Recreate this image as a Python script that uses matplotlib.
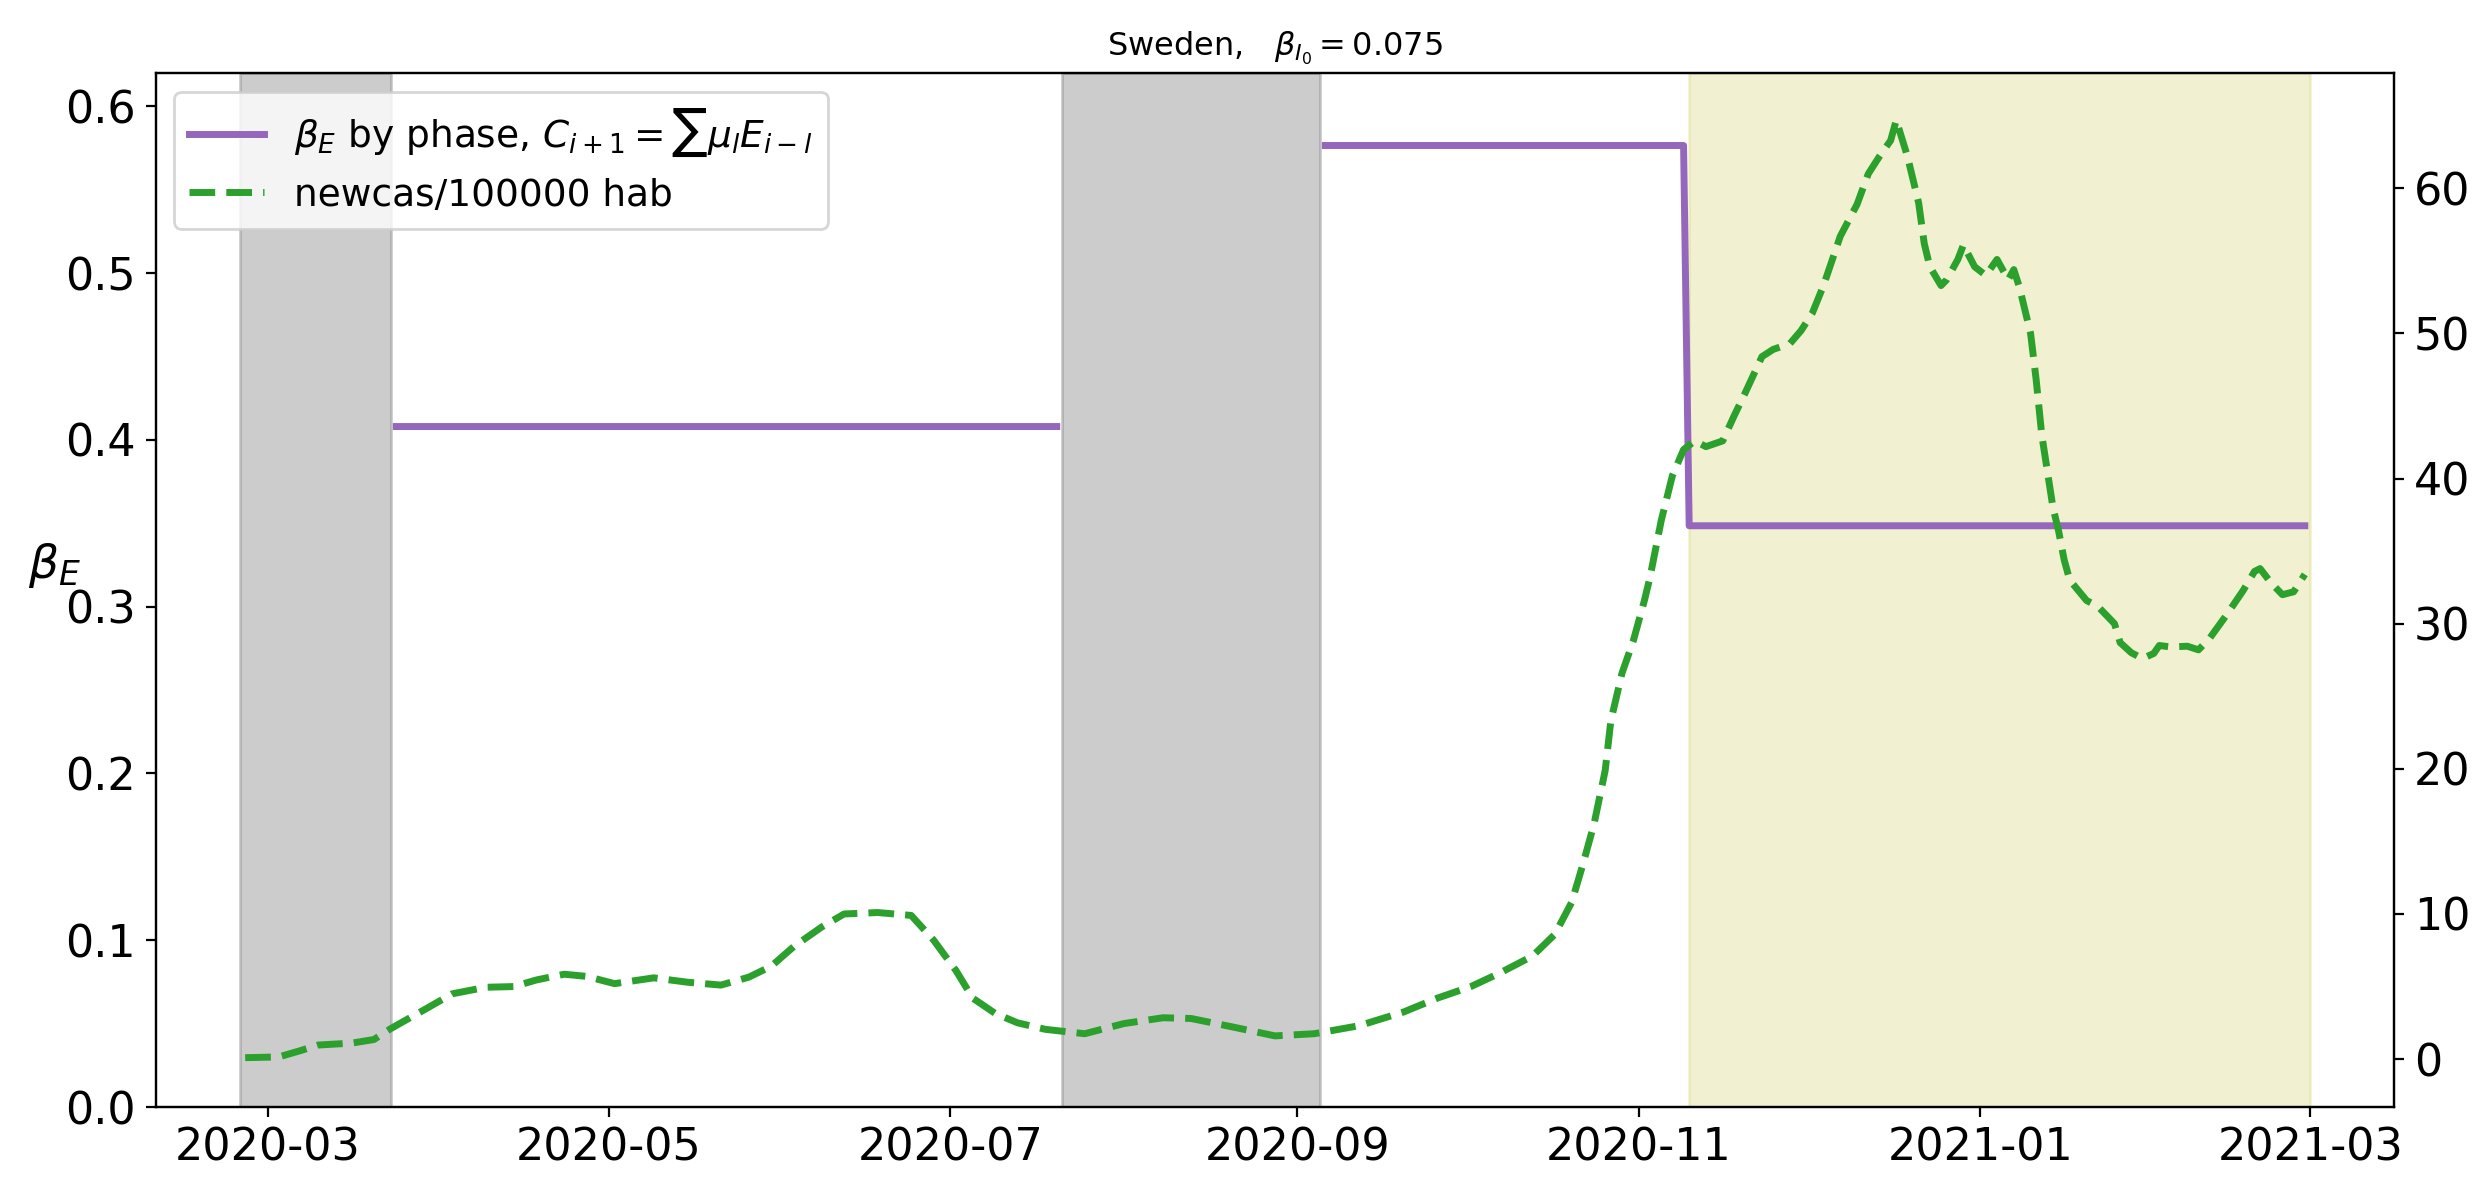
import matplotlib
matplotlib.use("Agg")
import matplotlib.pyplot as plt
import matplotlib.dates as mdates
import numpy as np
import pandas as pd

# Nouveaux cas / 100000 hab (lissés)
dates_cas = [
    "2020-02-26", "2020-03-03", "2020-03-07", "2020-03-10", "2020-03-16", "2020-03-20",
    "2020-03-23", "2020-03-29", "2020-04-03", "2020-04-09", "2020-04-14", "2020-04-18",
    "2020-04-23", "2020-04-27", "2020-05-02", "2020-05-09", "2020-05-15", "2020-05-21",
    "2020-05-26", "2020-05-30", "2020-06-03", "2020-06-08", "2020-06-12", "2020-06-18",
    "2020-06-21", "2020-06-24", "2020-06-28", "2020-07-02", "2020-07-05", "2020-07-09",
    "2020-07-13", "2020-07-18", "2020-07-25", "2020-08-01", "2020-08-08", "2020-08-13",
    "2020-08-20", "2020-08-28", "2020-09-04", "2020-09-12", "2020-09-20", "2020-09-26",
    "2020-10-02", "2020-10-07", "2020-10-13", "2020-10-17", "2020-10-20", "2020-10-22",
    "2020-10-24", "2020-10-26", "2020-10-27", "2020-10-29", "2020-10-31", "2020-11-02",
    "2020-11-03", "2020-11-05", "2020-11-07", "2020-11-09", "2020-11-11", "2020-11-13",
    "2020-11-16", "2020-11-18", "2020-11-20", "2020-11-23", "2020-11-25", "2020-11-28",
    "2020-11-30", "2020-12-02", "2020-12-04", "2020-12-07", "2020-12-10", "2020-12-12",
    "2020-12-14", "2020-12-16", "2020-12-17", "2020-12-19", "2020-12-21", "2020-12-22",
    "2020-12-23", "2020-12-25", "2020-12-26", "2020-12-28", "2020-12-29", "2020-12-31",
    "2021-01-02", "2021-01-04", "2021-01-06", "2021-01-07", "2021-01-08", "2021-01-10",
    "2021-01-11", "2021-01-12", "2021-01-14", "2021-01-15", "2021-01-16", "2021-01-17",
    "2021-01-20", "2021-01-22", "2021-01-25", "2021-01-26", "2021-01-28", "2021-01-30",
    "2021-02-01", "2021-02-02", "2021-02-04", "2021-02-07", "2021-02-09", "2021-02-11",
    "2021-02-14", "2021-02-17", "2021-02-19", "2021-02-20", "2021-02-22", "2021-02-24",
    "2021-02-26", "2021-02-28",
]
newcas = [
    0.1, 0.15, 0.6, 0.97, 1.1, 1.35,
    2.1, 3.4, 4.5, 4.95, 5.0, 5.45,
    5.85, 5.7, 5.2, 5.6, 5.3, 5.1,
    5.65, 6.4, 7.75, 9.1, 10.0, 10.1,
    10.0, 9.9, 8.2, 6.1, 4.2, 3.15,
    2.5, 2.05, 1.75, 2.45, 2.85, 2.8,
    2.25, 1.6, 1.75, 2.3, 3.25, 4.2,
    5.0, 5.9, 7.1, 8.6, 10.8, 13.4,
    16.2, 19.9, 23.3, 26.6, 28.8, 31.6,
    33.2, 37.1, 40.2, 42.0, 42.6, 42.2,
    42.6, 44.3, 45.9, 48.4, 48.9, 49.3,
    50.2, 51.4, 53.3, 56.7, 58.9, 61.0,
    62.2, 63.3, 64.7, 62.2, 59.0, 56.2,
    54.6, 53.3, 53.7, 55.1, 56.1, 54.6,
    54.0, 55.1, 53.7, 54.4, 53.2, 50.0,
    46.8, 43.0, 38.0, 36.4, 34.4, 33.0,
    31.6, 31.2, 30.0, 28.7, 28.0, 27.6,
    27.95, 28.5, 28.4, 28.45, 28.2, 29.0,
    30.6, 32.3, 33.6, 33.8, 32.8, 32.0,
    32.2, 33.4,
]

# beta_E par phase
phase_debut = ["2020-03-24", "2020-09-06", "2020-11-10"]
phase_fin = ["2020-07-20", "2020-11-09", "2021-02-28"]
beta_phase = [0.408, 0.5765, 0.3485]

# Zones grisées et zone jaune
gris_debut = ["2020-02-25", "2020-07-21"]
gris_fin = ["2020-03-23", "2020-09-05"]
jaune_debut = "2020-11-10"
jaune_fin = "2021-03-01"

# Construction de la courbe en escalier (coupée entre deux phases non contiguës)
x_beta = []
y_beta = []
for i in range(len(beta_phase)):
    d0 = pd.Timestamp(phase_debut[i])
    d1 = pd.Timestamp(phase_fin[i])
    if i > 0 and (d0 - pd.Timestamp(phase_fin[i - 1])).days > 1:
        x_beta.append(d0)
        y_beta.append(np.nan)
    x_beta += [d0, d1]
    y_beta += [beta_phase[i], beta_phase[i]]

fig, ax = plt.subplots(figsize=(12.45, 5.96), dpi=200)
fig.subplots_adjust(left=0.0625, right=0.9616, bottom=0.0713, top=0.9388)

for a, b in zip(gris_debut, gris_fin):
    ax.axvspan(pd.Timestamp(a), pd.Timestamp(b), color="gray", alpha=0.4)
ax.axvspan(pd.Timestamp(jaune_debut), pd.Timestamp(jaune_fin), color="tab:olive", alpha=0.2)

l1, = ax.plot(x_beta, y_beta, color="tab:purple", lw=2.5)

ax2 = ax.twinx()
l2, = ax2.plot(pd.to_datetime(dates_cas), newcas, "--", color="tab:green", lw=2.5)

ax.set_ylim(0, 0.62)
ax2.set_ylim(-3.3, 67.95)
ax.set_xlim(pd.Timestamp("2020-02-10"), pd.Timestamp("2021-03-16"))

ax.xaxis.set_major_locator(mdates.MonthLocator(bymonth=[1, 3, 5, 7, 9, 11]))
ax.xaxis.set_major_formatter(mdates.DateFormatter("%Y-%m"))
ax.tick_params(labelsize=16)
ax2.tick_params(labelsize=16)

ax.set_ylabel(r"$\beta_E$", rotation=0, fontsize=17)
ax.set_title(r"Sweden,   $\beta_{I_0} = 0.075$", fontsize=11.5)

ax2.legend([l1, l2],
           [r"$\beta_E$ by phase, $C_{i+1}=\sum \mu_l E_{i-l}$", "newcas/100000 hab"],
           loc="upper left", fontsize=13.5)

plt.savefig("out.png")
